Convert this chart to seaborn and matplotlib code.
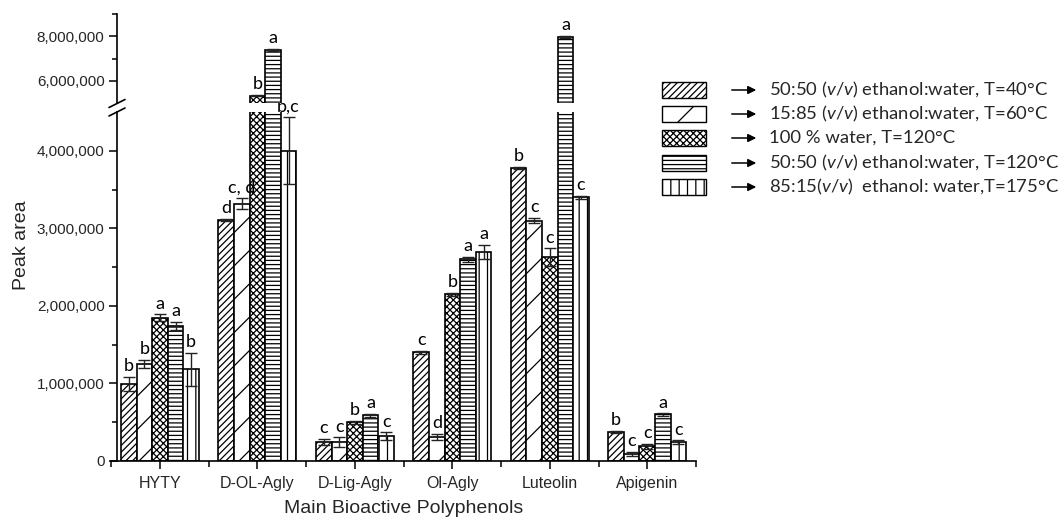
import matplotlib
matplotlib.use("Agg")
import numpy as np
import pandas as pd
import matplotlib.pyplot as plt
import matplotlib.ticker as mticker
from matplotlib.patches import Rectangle, FancyArrowPatch
from matplotlib.lines import Line2D
from matplotlib.container import BarContainer
import seaborn as sns

# ---- data -------------------------------------------------------------
compounds = ["HYTY", "D-OL-Agly", "D-Lig-Agly", "Ol-Agly", "Luteolin", "Apigenin"]
conditions = [
    r"50:50 ($\mathit{v/v}$) ethanol:water, T=40°C",
    r"15:85 ($\mathit{v/v}$) ethanol:water, T=60°C",
    "100 % water, T=120°C",
    r"50:50 ($\mathit{v/v}$) ethanol:water, T=120°C",
    r"85:15($\mathit{v/v}$)  ethanol: water,T=175°C",
]

# peak areas (mean) per extraction condition, in compound order
area_40 = [990000, 3110000, 245000, 1400000, 3780000, 370000]
area_60 = [1250000, 3320000, 245000, 310000, 3100000, 90000]
area_w120 = [1850000, 5330000, 500000, 2150000, 2630000, 190000]
area_e120 = [1740000, 7380000, 590000, 2600000, 7970000, 600000]
area_175 = [1180000, 4000000, 320000, 2700000, 3400000, 245000]

# standard deviations
sd_40 = [90000, 15000, 45000, 15000, 15000, 15000]
sd_60 = [50000, 70000, 60000, 40000, 30000, 30000]
sd_w120 = [40000, 30000, 20000, 20000, 110000, 30000]
sd_e120 = [50000, 50000, 20000, 30000, 30000, 15000]
sd_175 = [210000, 430000, 50000, 90000, 20000, 20000]

# significance letters
sig_40 = ["b", "d", "c", "c", "b", "b"]
sig_60 = ["b", "c, d", "c", "d", "c", "c"]
sig_w120 = ["a", "b", "b", "b", "c", "c"]
sig_e120 = ["a", "a", "a", "a", "a", "a"]
sig_175 = ["b", "b,c", "c", "a", "c", "c"]

means = [area_40, area_60, area_w120, area_e120, area_175]
sds = [sd_40, sd_60, sd_w120, sd_e120, sd_175]
sigs = [sig_40, sig_60, sig_w120, sig_e120, sig_175]
hatches = ["/////", "/", "xxxxx", "----", "||"]

df = pd.DataFrame({
    "compound": np.tile(compounds, len(conditions)),
    "condition": np.repeat(conditions, len(compounds)),
    "area": np.concatenate(means),
})

# ---- style ------------------------------------------------------------
sns.set_theme(style="white")
plt.rcParams["font.family"] = ["Liberation Sans", "DejaVu Sans"]
plt.rcParams["mathtext.fontset"] = "custom"
plt.rcParams["mathtext.rm"] = "Lato"
plt.rcParams["mathtext.it"] = "Lato:italic"
plt.rcParams["hatch.linewidth"] = 0.9
plt.rcParams["hatch.color"] = "black"

W, H = 1060, 522
fig = plt.figure(figsize=(W / 100, H / 100), dpi=100)

def fx(px):
    return px / W

def fy(py):
    return 1 - py / H

left, right = 111.25, 696
ax_lo = fig.add_axes([fx(left), fy(461), fx(right - left), (461 - 112) / H])
ax_hi = fig.add_axes([fx(left), fy(103), fx(right - left), (103 - 14) / H])

LOW_TOP = 4.5e6
letter_font = dict(family="Lato", fontsize=13, color="black")
bar_groups = {}

for ax in (ax_lo, ax_hi):
    sns.barplot(data=df, x="compound", y="area", hue="condition",
                order=compounds, hue_order=conditions,
                palette=["white"] * len(conditions), edgecolor="black",
                linewidth=1.2, errorbar=None, legend=False, width=0.8,
                saturation=1, ax=ax)
    conts = [c for c in ax.containers if isinstance(c, BarContainer)]
    bar_groups[ax] = conts
    for cont, hatch in zip(conts, hatches):
        for bar in cont:
            bar.set_hatch(hatch)
    for cont, m, s in zip(conts, means, sds):
        xs = [b.get_x() + b.get_width() / 2 for b in cont]
        ax.errorbar(xs, m, yerr=s, fmt="none", ecolor="#222222",
                    elinewidth=1.0, capsize=4, capthick=1.0, zorder=5)
    ax.set_xlim(-0.5, 5.5)
    ax.set_xlabel("")
    ax.set_ylabel("")
    for side in ("top", "right"):
        ax.spines[side].set_visible(False)
    ax.spines["left"].set_position(("data", -0.44))
    for sp in ("left", "bottom"):
        ax.spines[sp].set_color("black")
        ax.spines[sp].set_linewidth(1.2)
    ax.yaxis.set_major_formatter(mticker.FuncFormatter(lambda v, p: f"{v:,.0f}"))
    ax.tick_params(axis="y", which="major", direction="out", length=6,
                   width=1.1, color="black", labelsize=11, pad=3, left=True)
    ax.tick_params(axis="y", which="minor", direction="out", length=3.5,
                   width=1.1, color="black", left=True)

# lower segment
ax_lo.set_ylim(0, LOW_TOP)
ax_lo.set_yticks([0, 1e6, 2e6, 3e6, 4e6])
ax_lo.set_yticks([0.5e6, 1.5e6, 2.5e6, 3.5e6], minor=True)
ax_lo.set_xticks(range(len(compounds)))
ax_lo.set_xticklabels(compounds)
ax_lo.set_xticks(np.arange(-0.5, 5.6, 1.0), minor=True)
ax_lo.tick_params(axis="x", which="major", direction="out", length=6,
                  width=1.1, color="black", labelsize=11.5, pad=5, bottom=True)
ax_lo.tick_params(axis="x", which="minor", direction="out", length=4,
                  width=1.1, color="black", bottom=True)
ax_lo.set_xlabel("Main Bioactive Polyphenols", fontsize=14, labelpad=6)

# upper segment
ax_hi.set_ylim(5.0e6, 9.0e6)
ax_hi.set_yticks([6e6, 8e6])
ax_hi.set_yticks([7e6, 9e6], minor=True)
ax_hi.spines["bottom"].set_visible(False)
ax_hi.set_xticks([])
ax_hi.patch.set_alpha(0)
ax_lo.patch.set_alpha(0)

# significance letters above each bar
for i, cont in enumerate(bar_groups[ax_lo]):
    for j, bar in enumerate(cont):
        cx = bar.get_x() + bar.get_width() / 2
        top = means[i][j] + sds[i][j]
        target = ax_hi if means[i][j] > LOW_TOP else ax_lo
        target.annotate(sigs[i][j], (cx, top), xytext=(0, 2),
                        textcoords="offset points", ha="center", va="bottom",
                        annotation_clip=False, **letter_font)

# axis break marks
x0 = 117
for yb in (103.5, 112):
    fig.add_artist(Line2D([fx(x0 - 8), fx(x0 + 8)], [fy(yb + 4), fy(yb - 4)],
                          color="black", lw=1.2))

fig.text(fx(22), fy(245), "Peak area", rotation=90, ha="center", va="center",
         fontsize=14)

# legend
rows = [90, 114, 138, 163, 187]
for yc, hatch, lab in zip(rows, hatches, conditions):
    fig.add_artist(Rectangle((fx(662), fy(yc + 8)), fx(44), 16 / H,
                             facecolor="white", edgecolor="black", lw=1.0,
                             hatch=hatch))
    fig.add_artist(FancyArrowPatch((fx(729), fy(yc)), (fx(759), fy(yc)),
                                   arrowstyle="-|>", mutation_scale=12,
                                   color="black", lw=1.1))
    fig.text(fx(769), fy(yc), lab, ha="left", va="center", family="Lato",
             fontsize=13.3)

fig.savefig("out.png", dpi=100)
